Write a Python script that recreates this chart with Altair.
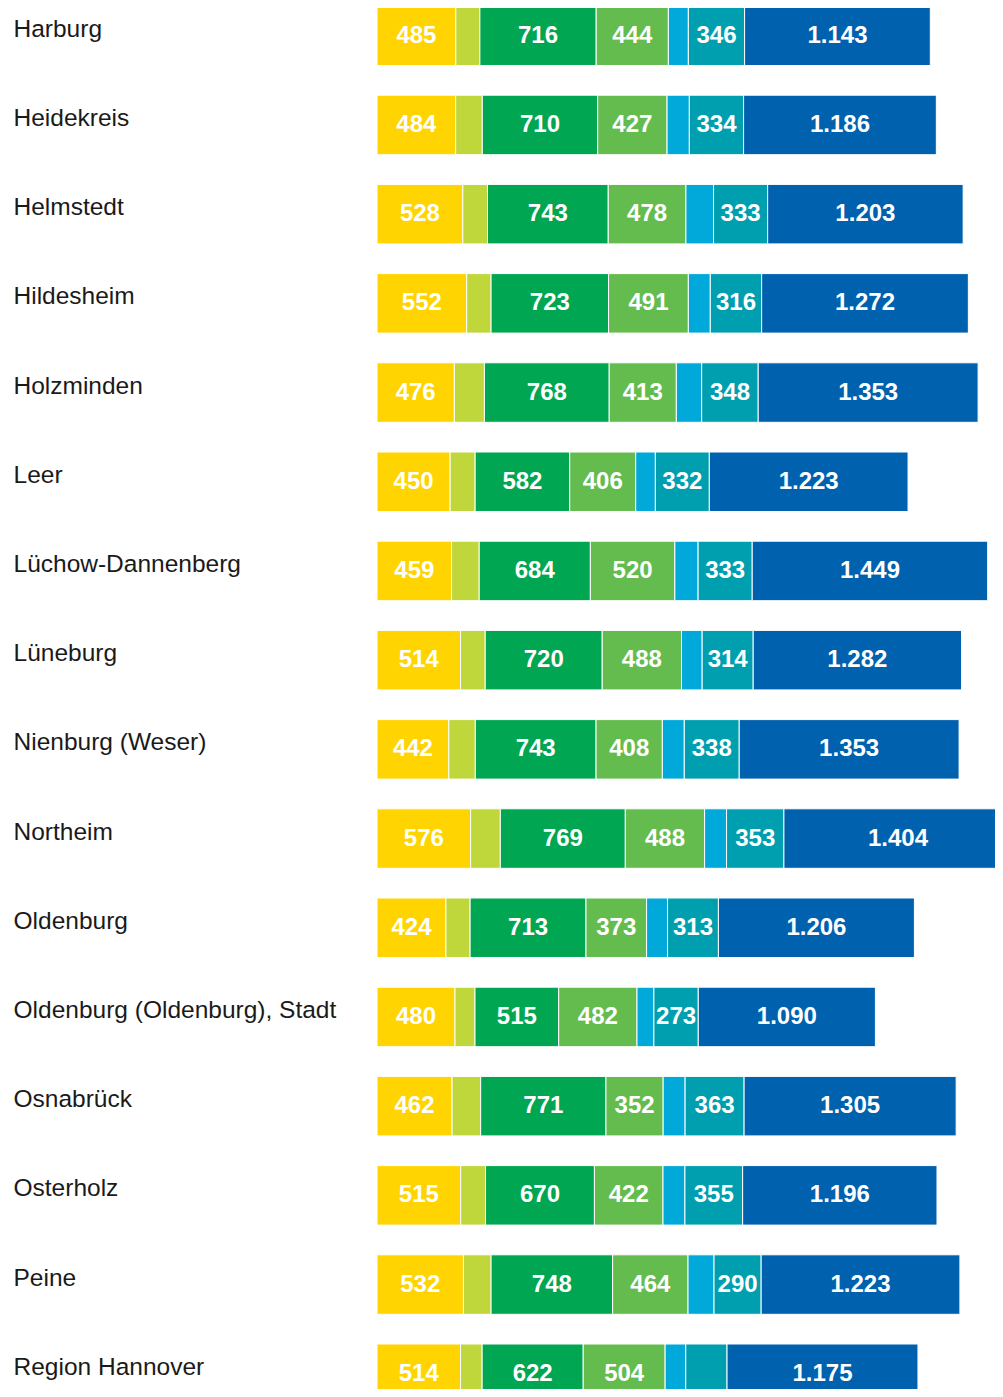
import altair as alt
import pandas as pd

regions = ["Harburg", "Heidekreis", "Helmstedt", "Hildesheim", "Holzminden", "Leer",
           "Lüchow-Dannenberg", "Lüneburg", "Nienburg (Weser)", "Northeim", "Oldenburg",
           "Oldenburg (Oldenburg), Stadt", "Osnabrück", "Osterholz", "Peine", "Region Hannover"]

yellow = [485, 484, 528, 552, 476, 450, 459, 514, 442, 576, 424, 480, 462, 515, 532, 514]
lime = [148, 164, 152, 150, 185, 154, 170, 152, 163, 183, 149, 123, 176, 153, 170, 133]
green = [716, 710, 743, 723, 768, 582, 684, 720, 743, 769, 713, 515, 771, 670, 748, 622]
lightgreen = [444, 427, 478, 491, 413, 406, 520, 488, 408, 488, 373, 482, 352, 422, 464, 504]
lightblue = [123, 137, 170, 135, 156, 121, 143, 127, 135, 135, 129, 104, 135, 135, 160, 127]
teal = [346, 334, 333, 316, 348, 332, 333, 314, 338, 353, 313, 273, 363, 355, 290, 254]
blue = [1143, 1186, 1203, 1272, 1353, 1223, 1449, 1282, 1353, 1404, 1206, 1090, 1305, 1196, 1223, 1175]

# whether the teal segment carries a label (not shown for Region Hannover)
teal_labeled = [True] * 15 + [False]

seg_names = ["yellow", "lime", "green", "lightgreen", "lightblue", "teal", "blue"]
seg_colors = ["#FFD400", "#BFD73B", "#00A651", "#65BC4E", "#00A9DA", "#009FAF", "#0061AF"]
labeled_segs = {"yellow", "green", "lightgreen", "teal", "blue"}
series = [yellow, lime, green, lightgreen, lightblue, teal, blue]


def fmt(v):
    return f"{v:,}".replace(",", ".")


rows = []
for i, r in enumerate(regions):
    for k, (name, vals) in enumerate(zip(seg_names, series)):
        v = vals[i]
        show = name in labeled_segs and not (name == "teal" and not teal_labeled[i])
        rows.append(dict(region=r, seg=name, order=k, value=v, label=fmt(v) if show else ""))
df = pd.DataFrame(rows)

base = alt.Chart(df).transform_stack(
    stack="value", groupby=["region"], sort=[alt.SortField("order")], as_=["x0", "x1"]
).transform_calculate(mid="(datum.x0 + datum.x1) / 2")

xscale = alt.Scale(domain=[0, 3803], nice=False, zero=True)
yscale = alt.Scale(range=[-16.85, 1410.35], paddingInner=0.333, paddingOuter=0.1665)
yaxis = alt.Axis(title=None, domain=False, ticks=False, tickSize=0, labelAlign="left",
                 labelPadding=364, labelFontSize=24.5, labelFont="Liberation Sans",
                 labelColor="#1a1a1a", labelLimit=400, labelOffset=-6, labelBaseline="middle")

bars = base.mark_bar(stroke="white", strokeWidth=1, clip=True).encode(
    x=alt.X("x0:Q", scale=xscale, axis=None),
    x2="x1:Q",
    y=alt.Y("region:N", sort=regions, scale=yscale, axis=yaxis),
    color=alt.Color("seg:N", scale=alt.Scale(domain=seg_names, range=seg_colors), legend=None),
)

text = base.mark_text(font="Liberation Sans", fontSize=24, fontWeight="bold",
                      color="white", clip=True).encode(
    x=alt.X("mid:Q", scale=xscale, axis=None),
    y=alt.Y("region:N", sort=regions, scale=yscale, axis=yaxis),
    text="label:N",
)

chart = alt.layer(bars, text).properties(
    width=618, height=1381,
    padding={"left": 5, "top": 0, "right": 0, "bottom": 0},
).configure_view(stroke=None)

chart.save("out.html", embed_options={"renderer": "svg", "actions": False})
